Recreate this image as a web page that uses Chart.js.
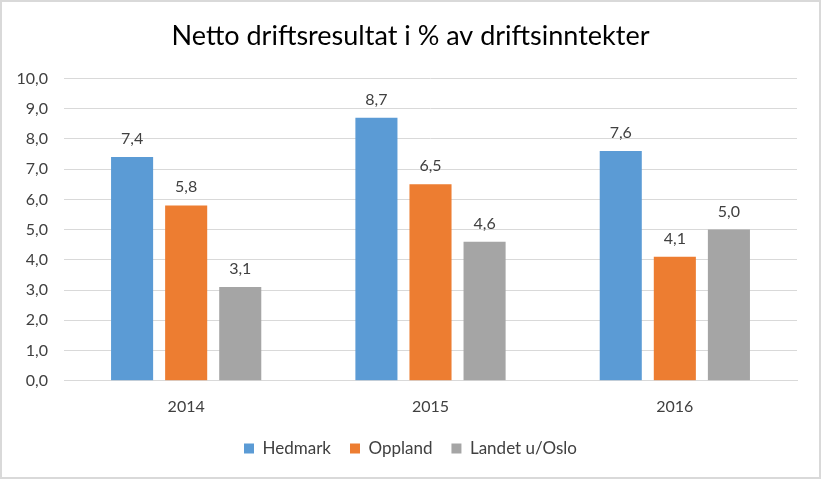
<!DOCTYPE html>
<html>
<head>
<meta charset="utf-8">
<script src="https://cdn.jsdelivr.net/npm/chart.js@4/dist/chart.umd.min.js"></script>
<style>
  html, body { margin: 0; padding: 0; background: #fff; }
  #wrap { position: relative; width: 821px; height: 479px; box-sizing: border-box; border: 2px solid #d9d9d9; }
  canvas { display: block; }
</style>
</head>
<body>
<div id="wrap"><canvas id="c"></canvas></div>
<script>
const categories = ['2014', '2015', '2016'];
const hedmark = [7.4, 8.7, 7.6];
const oppland = [5.8, 6.5, 4.1];
const landet = [3.1, 4.6, 5.0];
const seriesNames = ['Hedmark', 'Oppland', 'Landet u/Oslo'];
const titleText = 'Netto driftsresultat i % av driftsinntekter';

const fmt = v => v.toFixed(1).replace('.', ',');
const FONT = 'Lato, "Open Sans", sans-serif';

const valueLabels = {
  id: 'valueLabels',
  afterDatasetsDraw(chart) {
    const ctx = chart.ctx;
    ctx.save();
    ctx.font = '16px ' + FONT;
    ctx.fillStyle = '#404040';
    ctx.textAlign = 'center';
    ctx.textBaseline = 'alphabetic';
    chart.data.datasets.forEach((ds, i) => {
      chart.getDatasetMeta(i).data.forEach((bar, j) => {
        ctx.fillText(fmt(ds.data[j]), bar.x, bar.y - 13);
      });
    });
    ctx.restore();
  }
};

new Chart(document.getElementById('c'), {
  type: 'bar',
  data: {
    labels: categories,
    datasets: [
      { label: seriesNames[0], data: hedmark, backgroundColor: '#5b9bd5' },
      { label: seriesNames[1], data: oppland, backgroundColor: '#ed7d31' },
      { label: seriesNames[2], data: landet, backgroundColor: '#a5a5a5' }
    ]
  },
  options: {
    responsive: true,
    maintainAspectRatio: false,
    animation: false,
    categoryPercentage: 0.664,
    barPercentage: 0.778,
    layout: { padding: { left: 11, right: 11, top: 10, bottom: 10 } },
    plugins: {
      title: {
        display: true,
        text: titleText,
        color: '#000',
        font: { family: FONT, size: 27, weight: 'normal' },
        padding: { top: 8, bottom: 26 }
      },
      legend: {
        position: 'bottom',
        labels: {
          color: '#404040',
          font: { family: FONT, size: 17 },
          boxWidth: 10,
          boxHeight: 10,
          padding: 19
        }
      },
      tooltip: { enabled: false }
    },
    scales: {
      x: {
        grid: { display: false },
        border: { display: true, color: '#d9d9d9' },
        afterFit: s => { s.height -= 3; },
        ticks: { color: '#404040', font: { family: FONT, size: 16 }, padding: 8 }
      },
      y: {
        min: 0, max: 10,
        grid: { color: '#d9d9d9', drawTicks: false },
        border: { display: false },
        afterFit: s => { s.width = 51; },
        ticks: {
          stepSize: 1,
          color: '#404040',
          font: { family: FONT, size: 16 },
          padding: 16,
          callback: v => fmt(v)
        }
      },
      spacer: {
        type: 'linear',
        position: 'right',
        display: true,
        grid: { display: false, drawTicks: false },
        border: { display: false },
        ticks: { display: false },
        afterFit: s => { s.width = 11; }
      }
    }
  },
  plugins: [valueLabels]
});
</script>
</body>
</html>
